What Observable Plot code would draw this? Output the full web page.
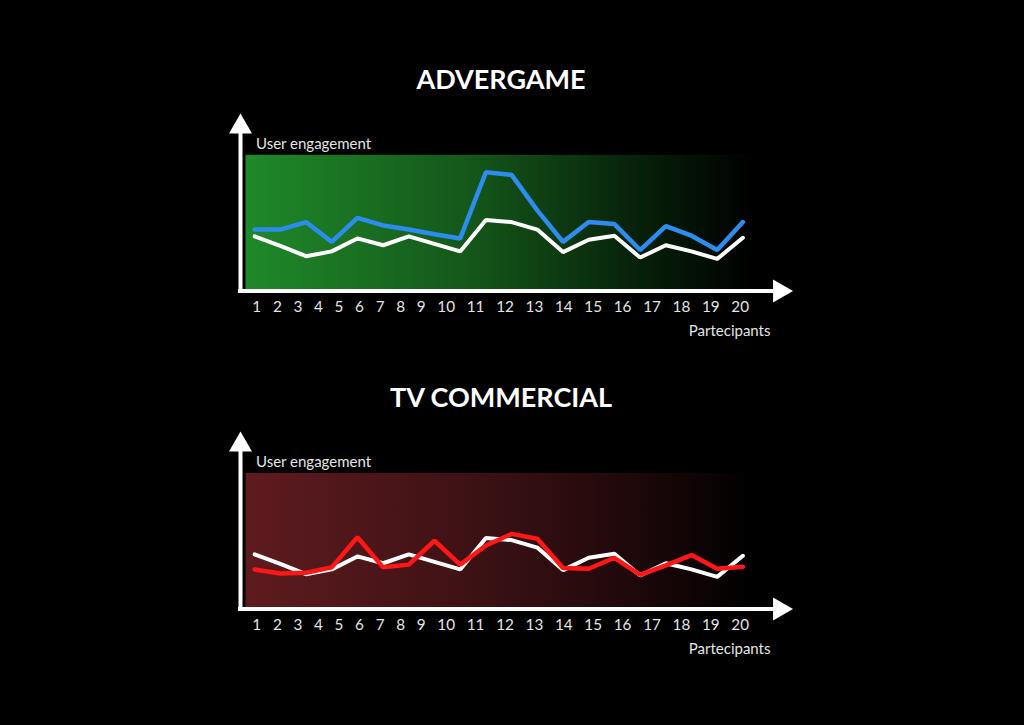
<!DOCTYPE html>
<html><head><meta charset="utf-8">
<script src="https://cdn.jsdelivr.net/npm/d3@7"></script>
<script src="https://cdn.jsdelivr.net/npm/@observablehq/plot@0.6"></script>
<style>
html,body{margin:0;padding:0;background:#000;}
body{width:1024px;height:725px;position:relative;overflow:hidden;font-family:Lato,sans-serif;}
.title{position:absolute;left:0;width:1002px;text-align:center;color:#fff;font:700 27px/27px Lato,sans-serif;}
.chart{position:absolute;left:0;}
</style></head><body>
<div class="title" style="top:65px">ADVERGAME</div>
<div class="chart" id="c1" style="top:100px"></div>
<div class="title" style="top:383px">TV COMMERCIAL</div>
<div class="chart" id="c2" style="top:418px"></div>
<script>
// ---- data ----
const participants = d3.range(1, 21);
const tickLabels = participants.map(String);
const baseline   = [40, 33, 25.5, 29, 38.5, 33.5, 40, 34.5, 29, 52, 50.5, 45, 28.5, 37.5, 40.5, 24.5, 33.5, 29, 23.5, 39];
const advergame  = [45, 45, 50.5, 36, 53.5, 48, 45, 41.5, 38.5, 87, 85, 59, 36, 50.5, 49, 30, 47.5, 40.5, 30, 50.5];
const commercial = [29, 26, 26.5, 30.5, 52.5, 30.5, 32.5, 50, 32.5, 46.5, 55, 51.5, 30, 29.5, 37.5, 25, 32, 39.5, 29.5, 31];
const xDomain = [0.45, 21.95];
const yDomain = [0, 130];
const yLabel = "User engagement";
const xLabel = "Partecipants";
const labelGap = "\u00a0\u00a0\u00a0";

function chart(series, color, gradId, stops) {
  const rows = participants.map((p, i) => ({p, base: baseline[i], v: series[i]}));
  return Plot.plot({
    width: 1024, height: 245,
    marginLeft: 240, marginRight: 231.5, marginTop: 13, marginBottom: 54.5,
    x: {domain: xDomain, axis: null},
    y: {domain: yDomain, axis: null},
    style: {background: "transparent", fontFamily: "Lato, sans-serif", fontSize: "15px", color: "#e4e4e4", overflow: "visible"},
    marks: [
      () => {
        const defs = d3.create("svg:defs");
        const g = defs.append("linearGradient").attr("id", gradId).attr("x1", 0).attr("x2", 1).attr("y1", 0).attr("y2", 0);
        stops.forEach(([o, c]) => g.append("stop").attr("offset", o).attr("stop-color", c));
        return defs.node();
      },
      Plot.frame({fill: `url(#${gradId})`, stroke: "none", insetLeft: 5, insetRight: 40.5, insetTop: 41.3, insetBottom: 0}),
      Plot.line(rows, {x: "p", y: "base", stroke: "#ffffff", strokeWidth: 4, strokeLinejoin: "miter"}),
      Plot.line(rows, {x: "p", y: "v", stroke: color, strokeWidth: 4.5, strokeLinejoin: "miter"}),
      Plot.ruleX([xDomain[0]], {stroke: "white", strokeWidth: 4, strokeLinecap: "square", insetTop: 14}),
      Plot.ruleY([yDomain[0]], {stroke: "white", strokeWidth: 4, strokeLinecap: "square", insetRight: 14}),
      Plot.dot([0], {frameAnchor: "top-left", symbol: "triangle", r: 8.54, dy: 13.3, fill: "white", stroke: "none"}),
      Plot.dot([0], {frameAnchor: "bottom-right", symbol: "triangle", r: 8.54, dx: -13.3, rotate: 90, fill: "white", stroke: "none"}),
      Plot.text([participants[0]], {x: d => d, text: () => tickLabels.join(labelGap), frameAnchor: "bottom", textAnchor: "start", lineAnchor: "bottom", dx: -2.3, dy: 20.5, fontSize: 15.25, fill: "#e4e4e4", ariaLabel: "tick labels"}),
      Plot.text([yLabel], {frameAnchor: "top-left", textAnchor: "start", lineAnchor: "bottom", dx: 15.5, dy: 35.3, fill: "#e4e4e4"}),
      Plot.text([xLabel], {frameAnchor: "bottom-right", textAnchor: "end", lineAnchor: "bottom", dx: -22.5, dy: 44.5, fill: "#e4e4e4"})
    ]
  });
}

document.getElementById("c1").append(chart(advergame, "#2d8cf0", "gGreen",
  [[0, "rgb(31,137,41)"], [0.45, "rgb(20,86,26)"], [0.75, "rgb(8,36,11)"], [1, "rgb(0,0,0)"]]));
document.getElementById("c2").append(chart(commercial, "#ff1717", "gRed",
  [[0, "rgb(94,27,31)"], [0.46, "rgb(60,17,20)"], [0.74, "rgb(33,9,11)"], [1, "rgb(0,0,0)"]]));
</script>
</body></html>
